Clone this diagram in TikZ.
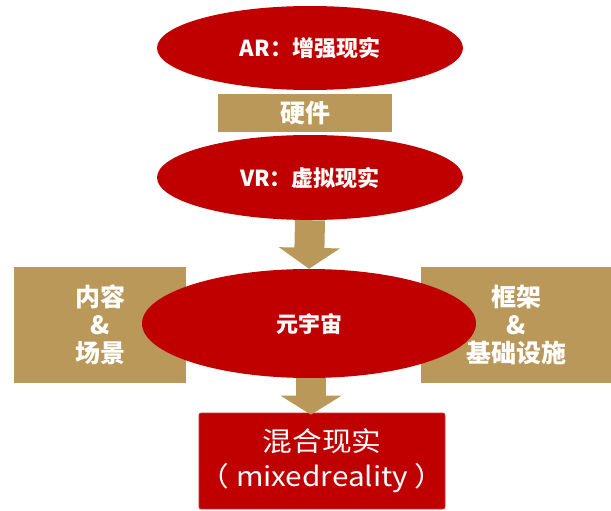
\documentclass[tikz,border=0pt]{standalone}
\usepackage{fontspec}
\setmainfont{Noto Sans CJK SC}
\usetikzlibrary{shapes.geometric,arrows.meta}
\definecolor{mred}{RGB}{192,0,0}
\definecolor{mgold}{RGB}{185,152,90}
\newcommand{\widetext}[1]{\scalebox{1.1}[1]{#1}}
\tikzset{
  redell/.style={ellipse,fill=mred,draw=none,inner sep=0pt,text=white,font=\bfseries\fontsize{22}{26}\selectfont},
  goldbox/.style={rectangle,fill=mgold,draw=none,inner sep=0pt,text=white,align=center,font=\bfseries\fontsize{25}{28}\selectfont},
  blockarrow/.style={draw=mgold,line width=30pt,-{Triangle[width=60pt,length=21pt]},color=mgold}
}
\begin{document}
\begin{tikzpicture}[x=1pt,y=-1pt]
\useasboundingbox (0,0) rectangle (611,511);
\node[redell,minimum width=306pt,minimum height=84pt] (ar) at (310,48) {AR：增强现实};
\node[goldbox,minimum width=174pt,minimum height=38pt] (hw) at (305,113) {硬件};
\node[redell,minimum width=306pt,minimum height=85pt] (vr) at (310,177.5) {VR：虚拟现实};
\node[goldbox,minimum width=172pt,minimum height=116pt] (content) at (100,325) {内容\\\&\\场景};
\node[goldbox,minimum width=190pt,minimum height=116pt] (frame) at (516,325) {框架\\\&\\基础设施};
\node[redell,minimum width=334pt,minimum height=109pt,font=\bfseries\fontsize{22}{26}\selectfont] (meta) at (309,323.5) {元宇宙};
\node[rectangle,rounded corners=2pt,fill=mred,draw=mred!80!white,line width=0.6pt,minimum width=246pt,minimum height=96pt,inner sep=0pt,text=white,align=center,font=\fontsize{27}{35}\selectfont] (mr) at (322,461) {\widetext{混合现实}\\\widetext{（ mixedreality ）}};
\coordinate (a2s) at ([xshift=2pt]meta.south);
\coordinate (a2e) at ([yshift=-2pt]a2s |- mr.north);
\draw[blockarrow] (vr.south) -- (meta.north);
\draw[blockarrow,-{Triangle[width=60pt,length=19pt]}] (a2s) -- (a2e);
\end{tikzpicture}
\end{document}
